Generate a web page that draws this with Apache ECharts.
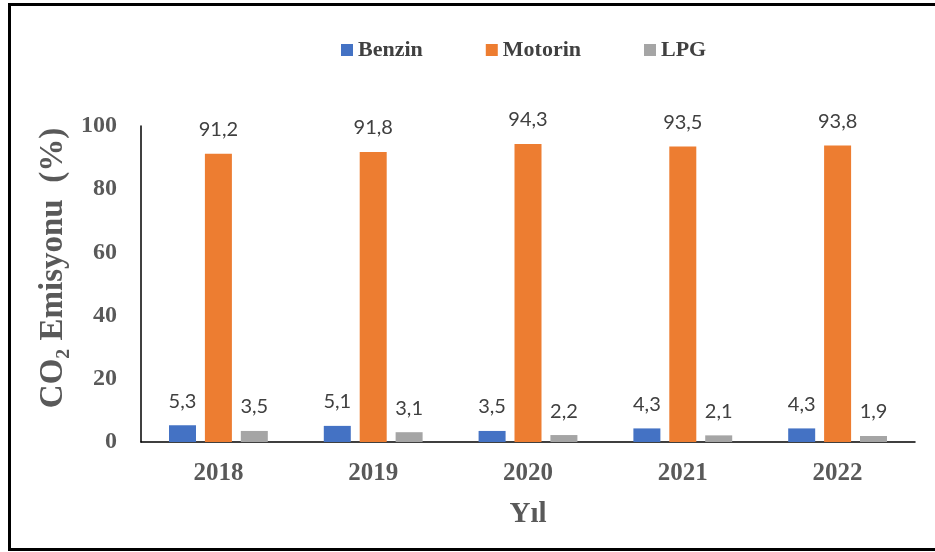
<!DOCTYPE html>
<html>
<head>
<meta charset="utf-8">
<script src="https://cdn.jsdelivr.net/npm/echarts@6/dist/echarts.min.js"></script>
<style>
  html, body { margin: 0; padding: 0; background: #fff; }
  #chart { width: 935px; height: 552px; }
</style>
</head>
<body>
<div id="chart"></div>
<script>
const years = ['2018', '2019', '2020', '2021', '2022']
const benzin = [5.3, 5.1, 3.5, 4.3, 4.3]
const motorin = [91.2, 91.8, 94.3, 93.5, 93.8]
const lpg = [3.5, 3.1, 2.2, 2.1, 1.9]
const yTicks = [0, 20, 40, 60, 80, 100]

const serif = '"Liberation Serif", "Times New Roman", serif'
const label = {
  show: true,
  position: 'top',
  distance: 14,
  color: '#404040',
  fontFamily: 'Lato, "Open Sans", sans-serif',
  fontSize: 20,
  formatter: p => String(p.value).replace('.', ',')
}

const chart = echarts.init(document.getElementById('chart'))
chart.setOption({
  animation: false,
  backgroundColor: '#fff',
  graphic: [{
    type: 'rect',
    shape: { x: 9.5, y: 4.5, width: 1000, height: 545 },
    style: { fill: 'none', stroke: '#000', lineWidth: 3 },
    silent: true
  }],
  legend: {
    top: 34,
    left: 336,
    itemWidth: 12,
    itemHeight: 12,
    itemGap: 63,
    icon: 'rect',
    textStyle: { fontFamily: serif, fontWeight: 'bold', fontSize: 22, color: '#404040' },
    data: ['Benzin', 'Motorin', 'LPG']
  },
  grid: { left: 141, right: 20, top: 126, bottom: 110 },
  xAxis: {
    type: 'category',
    data: years,
    name: 'Yıl',
    nameLocation: 'middle',
    nameGap: 58,
    nameTextStyle: { fontFamily: serif, fontWeight: 'bold', fontSize: 29, color: '#595959' },
    axisLine: { lineStyle: { color: '#000', width: 1.5 } },
    axisTick: { show: false },
    axisLabel: { margin: 19, fontFamily: serif, fontWeight: 'bold', fontSize: 25, color: '#595959' }
  },
  yAxis: {
    type: 'value',
    min: yTicks[0],
    max: yTicks[yTicks.length - 1],
    interval: yTicks[1] - yTicks[0],
    name: 'CO₂ Emisyonu  (%)',
    nameLocation: 'middle',
    nameGap: 71,
    nameRotate: 90,
    nameTextStyle: {
      fontFamily: serif, fontWeight: 'bold', fontSize: 33, color: '#595959',
      padding: [0, 0, 0, 32]
    },
    axisLine: { show: true, lineStyle: { color: '#000', width: 1.5 } },
    axisTick: { show: false },
    splitLine: { show: false },
    axisLabel: { margin: 24, fontFamily: serif, fontWeight: 'bold', fontSize: 24, color: '#595959' }
  },
  series: [
    { name: 'Benzin', type: 'bar', data: benzin, barWidth: 27, barGap: '33%', itemStyle: { color: '#4472C4' }, label },
    { name: 'Motorin', type: 'bar', data: motorin, barWidth: 27, barGap: '33%', itemStyle: { color: '#ED7D31' }, label },
    { name: 'LPG', type: 'bar', data: lpg, barWidth: 27, barGap: '33%', itemStyle: { color: '#A5A5A5' }, label }
  ]
})
</script>
</body>
</html>
